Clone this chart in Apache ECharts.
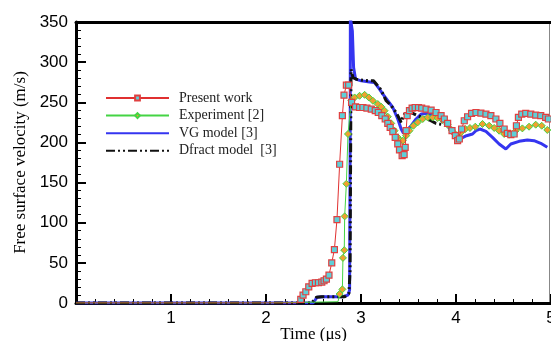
<!DOCTYPE html>
<html><head><meta charset="utf-8">
<script src="https://cdn.jsdelivr.net/npm/echarts@6/dist/echarts.min.js"></script>
<style>html,body{margin:0;padding:0;background:#fff}#c{width:551px;height:341px}</style>
</head><body><div id="c"></div>
<script>
// ---- data (time in microseconds, velocity in m/s) ----
var xTicks = [0, 1, 2, 3, 4, 5];
var yTicks = [0, 50, 100, 150, 200, 250, 300, 350];

var presentX = [0, 2.335, 2.366, 2.390, 2.419, 2.450, 2.485, 2.520, 2.552, 2.587, 2.611, 2.636, 2.663, 2.692, 2.720, 2.747, 2.775, 2.804, 2.821, 2.846, 2.870, 2.901, 2.943, 2.985, 3.020, 3.062, 3.108, 3.150, 3.182, 3.219, 3.255, 3.282, 3.307, 3.335, 3.360, 3.387, 3.405, 3.433, 3.454, 3.465, 3.475, 3.486, 3.510, 3.538, 3.570, 3.605, 3.639, 3.685, 3.738, 3.790, 3.843, 3.877, 3.912, 3.958, 3.993, 4.017, 4.035, 4.059, 4.087, 4.122, 4.164, 4.210, 4.262, 4.315, 4.367, 4.420, 4.462, 4.507, 4.541, 4.577, 4.612, 4.636, 4.657, 4.692, 4.734, 4.787, 4.839, 4.892, 4.944, 4.972];
var presentY = [0, 0, 4.6, 9.9, 14.0, 20.2, 24.4, 25.2, 25.2, 26.1, 27.7, 29.8, 34.7, 50.0, 66.6, 103.8, 172.8, 233.3, 258.9, 271.3, 271.3, 249.8, 244.4, 243.5, 243.5, 242.8, 241.6, 239.5, 237.3, 233.3, 229.2, 223.7, 218.7, 213.4, 206.3, 198.1, 190.7, 183.6, 184.9, 193.9, 214.6, 233.3, 239.5, 242.8, 243.5, 243.3, 242.8, 241.6, 240.3, 237.3, 233.3, 229.2, 223.7, 214.6, 208.4, 202.2, 204.3, 216.7, 227.0, 232.0, 236.1, 237.3, 236.6, 235.3, 233.3, 229.2, 223.7, 216.7, 211.3, 209.7, 210.5, 220.8, 231.1, 235.3, 236.1, 235.3, 234.1, 233.3, 231.1, 229.2];

var expX = [0, 2.0, 2.758, 2.775, 2.804, 2.810, 2.824, 2.828, 2.846, 2.863, 2.898, 2.933, 2.985, 3.038, 3.083, 3.125, 3.177, 3.213, 3.248, 3.282, 3.318, 3.353, 3.387, 3.412, 3.440, 3.475, 3.510, 3.552, 3.597, 3.650, 3.702, 3.754, 3.807, 3.859, 3.912, 3.954, 3.990, 4.017, 4.052, 4.098, 4.147, 4.203, 4.279, 4.349, 4.402, 4.454, 4.507, 4.559, 4.629, 4.699, 4.769, 4.839, 4.902, 4.961];
var expY = [0, 0, 1.6, 11.2, 17.0, 56.2, 65.8, 107.9, 148.5, 210.5, 251.9, 256.0, 258.1, 259.3, 256.0, 251.9, 247.8, 244.4, 239.5, 232.0, 223.7, 214.6, 206.3, 202.2, 202.2, 208.4, 214.6, 220.8, 225.0, 229.2, 231.1, 231.1, 230.4, 227.9, 222.1, 215.5, 210.5, 206.3, 212.5, 216.7, 218.0, 219.6, 223.0, 220.8, 218.0, 214.6, 210.5, 209.7, 214.6, 217.5, 219.6, 222.1, 220.8, 215.5];

var vgX = [0, 2.495, 2.537, 2.600, 2.810, 2.863, 2.880, 2.886, 2.888, 2.909, 2.922, 2.943, 3.003, 3.090, 3.143, 3.195, 3.230, 3.282, 3.335, 3.387, 3.423, 3.447, 3.475, 3.528, 3.580, 3.633, 3.702, 3.790, 3.859, 3.912, 3.958, 4.000, 4.027, 4.063, 4.111, 4.174, 4.210, 4.252, 4.315, 4.384, 4.454, 4.525, 4.577, 4.664, 4.751, 4.822, 4.892, 4.961];
var vgY = [0, 0, 7.1, 7.8, 7.8, 9.9, 16.1, 200, 355, 338.7, 293.2, 278.8, 276.7, 275.4, 274.6, 266.4, 260.2, 251.9, 243.5, 229.2, 216.7, 211.3, 214.6, 220.8, 229.2, 235.3, 236.1, 233.3, 227.9, 220.8, 212.5, 204.3, 201.4, 205.6, 208.4, 210.5, 214.6, 216.7, 213.8, 206.3, 198.1, 191.9, 198.1, 201.4, 203.1, 202.2, 198.9, 193.9];

var dfX = [0, 2.480, 2.531, 2.583, 2.828, 2.873, 2.885, 2.895, 2.915, 2.951, 3.020, 3.090, 3.132, 3.177, 3.213, 3.265, 3.318, 3.370, 3.405, 3.423, 3.440, 3.458, 3.492, 3.545, 3.597, 3.650, 3.720, 3.790, 3.859, 3.912];
var dfY = [0, 0, 7.1, 7.8, 7.8, 12.0, 40.0, 291.2, 280.8, 278.8, 277.5, 276.7, 276.7, 270.5, 265.1, 251.9, 245.7, 237.3, 229.2, 225.0, 231.0, 235.3, 238.6, 236.1, 233.3, 231.1, 227.9, 223.7, 222.1, 220.8];

var names = ['Present work', 'Experiment [2]', 'VG model [3]', 'Dfract model  [3]'];

function pairs(xs, ys, noSym) {
  return xs.map(function (x, i) {
    var it = { value: [x, ys[i]] };
    if (noSym && i < noSym) it.symbol = 'none';
    return it;
  });
}

var chart = echarts.init(document.getElementById('c'), null, { renderer: 'canvas' });
var labelFont = { fontFamily: 'Liberation Sans, Arial, sans-serif', fontSize: 17, color: '#000' };
var serif = 'Liberation Serif, Times New Roman, serif';
chart.setOption({
  animation: false,
  backgroundColor: '#fff',
  grid: { left: 76, right: 0, top: 22, bottom: 38, containLabel: false, outerBoundsMode: 'none' },
  legend: {
    orient: 'vertical', left: 100, top: 86,
    itemWidth: 63, itemHeight: 6, itemGap: 3.6,
    data: [
      { name: names[0] },
      { name: names[1] },
      { name: names[2], itemStyle: { opacity: 0 } },
      { name: names[3], itemStyle: { opacity: 0 } }
    ],
    textStyle: { fontFamily: serif, fontSize: 14, color: '#222', padding: [0, 0, 0, 5] }
  },
  xAxis: [{
    type: 'value', min: 0, max: 5, interval: 1, position: 'bottom',
    name: 'Time (\u03bcs)', nameLocation: 'middle', nameGap: 23, nameMoveOverlap: false,
    nameTextStyle: { fontFamily: serif, fontSize: 17, color: '#000' },
    axisLine: { onZero: false, lineStyle: { color: '#000', width: 3 } },
    axisTick: { inside: true, length: 9, lineStyle: { color: '#000', width: 2 } },
    minorTick: { show: true, splitNumber: 5, length: 4, lineStyle: { color: '#000', width: 1 } },
    axisLabel: Object.assign({ margin: 7, formatter: function (v) { return v === 0 ? '' : String(v); } }, labelFont),
    splitLine: { show: false }
  }, {
    type: 'value', min: 0, max: 5, position: 'top',
    axisLine: { show: true, onZero: false, lineStyle: { color: '#000', width: 3 } },
    axisTick: { show: false }, axisLabel: { show: false }, splitLine: { show: false }
  }],
  yAxis: [{
    type: 'value', min: 0, max: 350, interval: 50, position: 'left',
    name: 'Free surface velocity (m/s)', nameLocation: 'middle', nameGap: 47, nameMoveOverlap: false,
    nameTextStyle: { fontFamily: serif, fontSize: 17, color: '#000' },
    axisLine: { show: true, onZero: false, lineStyle: { color: '#000', width: 3 } },
    axisTick: { inside: true, length: 10, lineStyle: { color: '#000', width: 2 } },
    minorTick: { show: true, splitNumber: 5, length: 5, lineStyle: { color: '#000', width: 1 } },
    axisLabel: Object.assign({ margin: 8 }, labelFont),
    splitLine: { show: false }
  }, {
    type: 'value', min: 0, max: 350, position: 'right', offset: -2,
    axisLine: { show: true, onZero: false, lineStyle: { color: '#888', width: 1 } },
    axisTick: { show: false }, axisLabel: { show: false }, splitLine: { show: false }
  }],
  series: [{
    name: names[2], type: 'line', data: pairs(vgX, vgY), symbol: 'none', z: 2,
    color: '#3535f0', lineStyle: { color: '#3535f0', width: 3 }
  }, {
    name: names[3], type: 'line', data: pairs(dfX, dfY), symbol: 'none', z: 3,
    color: '#111', lineStyle: { color: '#111', width: 3, type: [9, 3, 2, 3, 2, 3] }
  }, {
    name: names[1], type: 'line', data: pairs(expX, expY, 3), symbol: 'diamond', symbolSize: 7, z: 4,
    color: '#f0a030',
    lineStyle: { color: '#44d444', width: 1 },
    itemStyle: { color: '#f0a030', borderColor: '#44d444', borderWidth: 1 }
  }, {
    name: names[0], type: 'line', data: pairs(presentX, presentY, 2), symbol: 'rect', symbolSize: 6, z: 5,
    color: '#5ecfd8',
    lineStyle: { color: '#e03030', width: 1 },
    itemStyle: { color: '#5ecfd8', borderColor: '#e04040', borderWidth: 1.2 }
  }]
});
</script>
</body></html>
